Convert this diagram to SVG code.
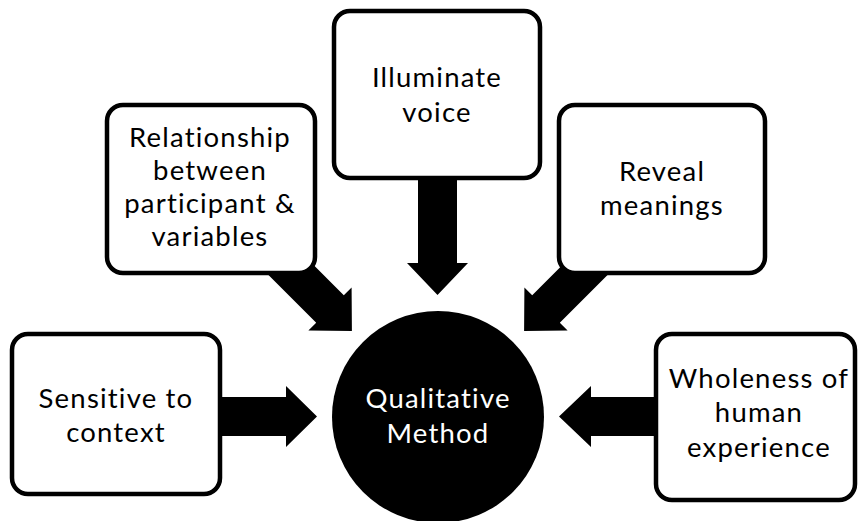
<svg xmlns="http://www.w3.org/2000/svg" width="858" height="521" viewBox="0 0 858 521">
  <style>
    .box { fill: #ffffff; stroke: #000000; stroke-width: 4.5; }
    .arrow { fill: #000000; stroke: none; }
    .label { font-family: Lato, "Open Sans", "Liberation Sans", sans-serif; font-size: 27.5px; letter-spacing: 1.2px; fill: #000000; text-anchor: middle; }
    .hub-label { font-family: Lato, "Open Sans", "Liberation Sans", sans-serif; font-size: 27.5px; letter-spacing: 1.2px; fill: #ffffff; text-anchor: middle; }
  </style>
  <rect width="858" height="521" fill="#ffffff"/>

  <!-- block arrows pointing at the central circle (drawn first so the boxes cover their tails) -->
  <g id="connectors">
    <polygon class="arrow" points="200,397 286,397 286,386 317,416.5 286,447 286,436 200,436"/>
    <polygon class="arrow" points="680,397 591,397 591,386 559,416.5 591,447 591,436 680,436"/>
    <polygon class="arrow" points="418,160 457,160 457,263 468,263 437.5,295 407,263 418,263"/>
    <polygon class="arrow" points="283.8,235.2 343.8,295.2 351.6,287.4 351.9,330.9 308.4,330.6 316.2,322.8 256.2,262.8"/>
    <polygon class="arrow" points="592.2,235.2 532.2,295.2 524.4,287.4 524.1,330.9 567.6,330.6 559.8,322.8 619.8,262.8"/>
  </g>

  <g id="hub">
    <circle cx="438" cy="417" r="106" fill="#000000"/>
    <text class="hub-label" x="438" y="408">Qualitative</text>
    <text class="hub-label" x="438" y="443">Method</text>
  </g>

  <g id="node-context">
    <rect class="box" x="12" y="334" width="208" height="160" rx="16"/>
    <text class="label" x="116" y="408">Sensitive to</text>
    <text class="label" x="116" y="442">context</text>
  </g>

  <g id="node-relationship">
    <rect class="box" x="107" y="105" width="208" height="168" rx="16"/>
    <text class="label" x="210" y="147">Relationship</text>
    <text class="label" x="210" y="180">between</text>
    <text class="label" x="210" y="213">participant &amp;</text>
    <text class="label" x="210" y="246">variables</text>
  </g>

  <g id="node-voice">
    <rect class="box" x="334" y="11" width="206" height="167" rx="16"/>
    <text class="label" x="437" y="87">Illuminate</text>
    <text class="label" x="437" y="122">voice</text>
  </g>

  <g id="node-meanings">
    <rect class="box" x="559" y="105" width="206" height="168" rx="16"/>
    <text class="label" x="662" y="181">Reveal</text>
    <text class="label" x="662" y="215">meanings</text>
  </g>

  <g id="node-wholeness">
    <rect class="box" x="656" y="334" width="199" height="166" rx="16"/>
    <text class="label" x="759" y="388">Wholeness of</text>
    <text class="label" x="759" y="422">human</text>
    <text class="label" x="759" y="457">experience</text>
  </g>
</svg>
